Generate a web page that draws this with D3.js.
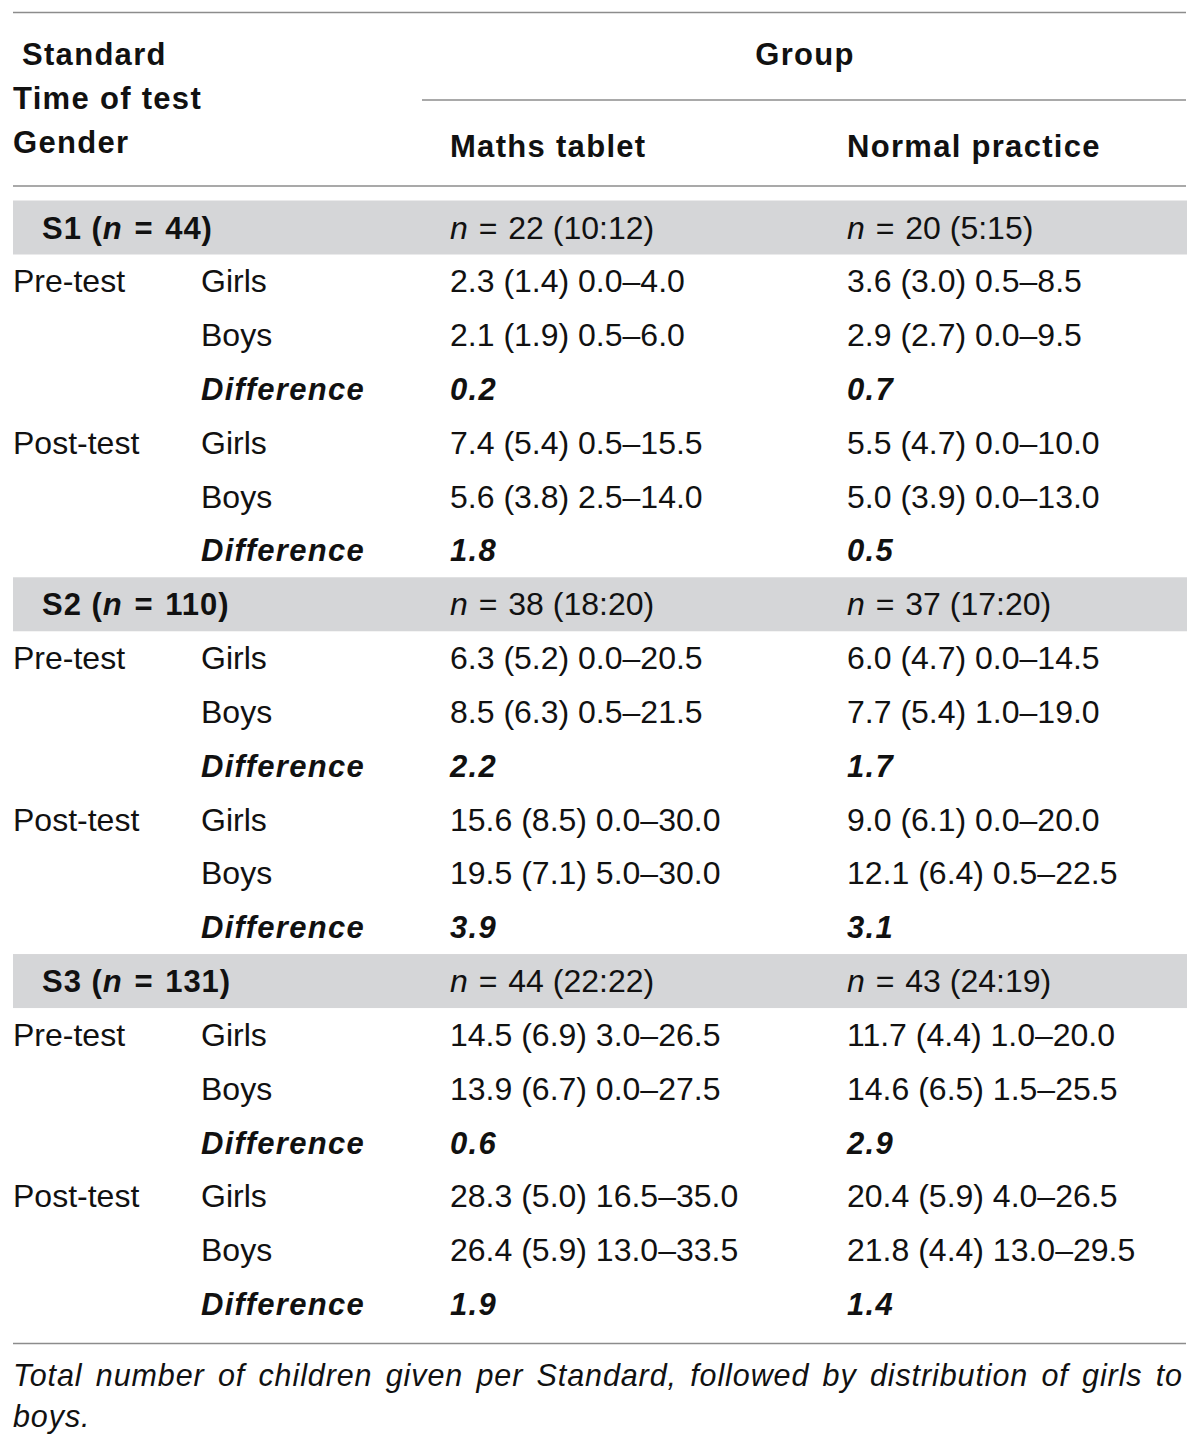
<!DOCTYPE html>
<html>
<head>
<meta charset="utf-8">
<script src="https://cdn.jsdelivr.net/npm/d3@7"></script>
<style>
  html, body { margin: 0; padding: 0; background: #fff; }
  svg { display: block; }
  text { font-family: "Liberation Sans", Arial, Helvetica, sans-serif; fill: #111; }
</style>
</head>
<body>
<div id="chart"></div>
<script>
// ---------------- DATA ----------------
const standards = ["S1", "S2", "S3"];
const standardTotals = [44, 110, 131];
const groups = ["Maths tablet", "Normal practice"];
const tabletN = [22, 38, 44];
const tabletGirls = [10, 18, 22];
const tabletBoys = [12, 20, 22];
const normalN = [20, 37, 43];
const normalGirls = [5, 17, 24];
const normalBoys = [15, 20, 19];
const times = ["Pre-test", "Post-test"];
const genders = ["Girls", "Boys"];
const diffLabel = "Difference";
// order: S1 pre girls, S1 pre boys, S1 post girls, S1 post boys, S2 ..., S3 ...
const tabletMean = [2.3, 2.1, 7.4, 5.6, 6.3, 8.5, 15.6, 19.5, 14.5, 13.9, 28.3, 26.4];
const tabletSD   = [1.4, 1.9, 5.4, 3.8, 5.2, 6.3, 8.5, 7.1, 6.9, 6.7, 5.0, 5.9];
const tabletMin  = [0.0, 0.5, 0.5, 2.5, 0.0, 0.5, 0.0, 5.0, 3.0, 0.0, 16.5, 13.0];
const tabletMax  = [4.0, 6.0, 15.5, 14.0, 20.5, 21.5, 30.0, 30.0, 26.5, 27.5, 35.0, 33.5];
const normalMean = [3.6, 2.9, 5.5, 5.0, 6.0, 7.7, 9.0, 12.1, 11.7, 14.6, 20.4, 21.8];
const normalSD   = [3.0, 2.7, 4.7, 3.9, 4.7, 5.4, 6.1, 6.4, 4.4, 6.5, 5.9, 4.4];
const normalMin  = [0.5, 0.0, 0.0, 0.0, 0.0, 1.0, 0.0, 0.5, 1.0, 1.5, 4.0, 13.0];
const normalMax  = [8.5, 9.5, 10.0, 13.0, 14.5, 19.0, 20.0, 22.5, 20.0, 25.5, 26.5, 29.5];
// order: S1 pre, S1 post, S2 pre, S2 post, S3 pre, S3 post
const tabletDiff = [0.2, 1.8, 2.2, 3.9, 0.6, 1.9];
const normalDiff = [0.7, 0.5, 1.7, 3.1, 2.9, 1.4];
const headerLeft = ["Standard", "Time of test", "Gender"];
const headerGroup = "Group";
const footnote = "Total number of children given per Standard, followed by distribution of girls to boys.";

// ---------------- LAYOUT ----------------
const W = 1200, H = 1449;
const left = 13, right = 1186;
const colX = { time: 13, gender: 201, tablet: 450, normal: 847, std: 42 };
const BOLD_LS = 1.3;
const fmt = d3.format(".1f");

const svg = d3.select("#chart").append("svg").attr("width", W).attr("height", H);

// build rows
const rows = [];
standards.forEach((s, si) => {
  rows.push({ type: "band", si });
  times.forEach((t, ti) => {
    genders.forEach((g, gi) => {
      rows.push({ type: "val", si, ti, gi, k: si * 4 + ti * 2 + gi });
    });
    rows.push({ type: "diff", si, ti, k: si * 2 + ti });
  });
});
rows.forEach((r, i) => r.i = i);

const y = d3.scaleLinear().domain([0, rows.length - 1]).range([238.5, 1315]);

// bands
svg.selectAll("rect.band").data(rows.filter(r => r.type === "band"))
  .join("rect").attr("class", "band")
  .attr("x", left).attr("width", right - left + 1)
  .attr("y", d => y(d.i) - 38).attr("height", 54)
  .attr("fill", "#d5d6d8");

// rules
const rules = [
  { x1: left, x2: right, y: 12.5 },
  { x1: 422, x2: right, y: 100 },
  { x1: left, x2: right, y: 186 },
  { x1: left, x2: right, y: 1343.5 }
];
svg.selectAll("line.rule").data(rules).join("line").attr("class", "rule")
  .attr("x1", d => d.x1).attr("x2", d => d.x2).attr("y1", d => d.y).attr("y2", d => d.y)
  .attr("stroke", "#8c8c8c").attr("stroke-width", 1.6);

// header
const hdrY = [65, 108.5, 153];
const hdrX = [22, 13, 13];
svg.selectAll("text.hl").data(headerLeft).join("text").attr("class", "hl")
  .attr("x", (d, i) => hdrX[i]).attr("y", (d, i) => hdrY[i])
  .style("font-size", "31px").style("font-weight", "bold").style("letter-spacing", BOLD_LS + "px")
  .text(d => d);
svg.append("text").attr("x", 805).attr("y", 65).attr("text-anchor", "middle")
  .style("font-size", "31px").style("font-weight", "bold").style("letter-spacing", BOLD_LS + "px")
  .text(headerGroup);
svg.selectAll("text.gh").data(groups).join("text").attr("class", "gh")
  .attr("x", (d, i) => i === 0 ? colX.tablet : colX.normal).attr("y", 157)
  .style("font-size", "31px").style("font-weight", "bold").style("letter-spacing", BOLD_LS + "px")
  .text(d => d);

// body cells
function regular(sel) { return sel.style("font-size", "32px"); }
function boldItal(sel) {
  return sel.style("font-size", "31px").style("font-weight", "bold").style("font-style", "italic")
    .style("letter-spacing", BOLD_LS + "px");
}

rows.forEach(r => {
  const yy = y(r.i);
  if (r.type === "band") {
    const t = svg.append("text").attr("x", colX.std).attr("y", yy)
      .style("font-size", "31px").style("font-weight", "bold").style("letter-spacing", "1px");
    t.append("tspan").text(standards[r.si] + " (");
    t.append("tspan").style("font-style", "italic").text("n");
    t.append("tspan").attr("dx", 2).text(" = ");
    t.append("tspan").attr("dx", 2).text(standardTotals[r.si] + ")");
    [[colX.tablet, tabletN, tabletGirls, tabletBoys], [colX.normal, normalN, normalGirls, normalBoys]]
      .forEach(([x, N, G, B]) => {
        const tt = regular(svg.append("text").attr("x", x).attr("y", yy));
        tt.append("tspan").style("font-style", "italic").text("n");
        tt.append("tspan").attr("dx", 2).text(" = ");
        tt.append("tspan").attr("dx", 2).text(N[r.si] + " (" + G[r.si] + ":" + B[r.si] + ")");
      });
  } else if (r.type === "val") {
    if (r.gi === 0) regular(svg.append("text").attr("x", colX.time).attr("y", yy)).text(times[r.ti]);
    regular(svg.append("text").attr("x", colX.gender).attr("y", yy)).text(genders[r.gi]);
    regular(svg.append("text").attr("x", colX.tablet).attr("y", yy))
      .text(`${fmt(tabletMean[r.k])} (${fmt(tabletSD[r.k])}) ${fmt(tabletMin[r.k])}\u2013${fmt(tabletMax[r.k])}`);
    regular(svg.append("text").attr("x", colX.normal).attr("y", yy))
      .text(`${fmt(normalMean[r.k])} (${fmt(normalSD[r.k])}) ${fmt(normalMin[r.k])}\u2013${fmt(normalMax[r.k])}`);
  } else {
    boldItal(svg.append("text").attr("x", colX.gender).attr("y", yy)).text(diffLabel);
    boldItal(svg.append("text").attr("x", colX.tablet).attr("y", yy)).text(fmt(tabletDiff[r.k]));
    boldItal(svg.append("text").attr("x", colX.normal).attr("y", yy)).text(fmt(normalDiff[r.k]));
  }
});

// footnote, justified first line
const words = footnote.split(" ");
const line1 = words.slice(0, words.length - 1);
const line2 = words.slice(words.length - 1);
const fnG = svg.append("g");
const fnStyle = sel => sel.style("font-size", "30.5px").style("font-style", "italic").style("letter-spacing", "0.9px");
const ws = fnStyle(fnG.selectAll("text.w").data(line1).join("text").attr("class", "w")
  .attr("y", 1385.5)).text(d => d);
const widths = [];
ws.each(function () { widths.push(this.getComputedTextLength()); });
const total = d3.sum(widths);
const gap = (1183 - left - total) / (line1.length - 1);
let cx = left;
ws.attr("x", (d, i) => { const v = cx; cx += widths[i] + gap; return v; });
fnStyle(fnG.append("text").attr("x", left).attr("y", 1427)).text(line2.join(" "));
</script>
</body>
</html>
